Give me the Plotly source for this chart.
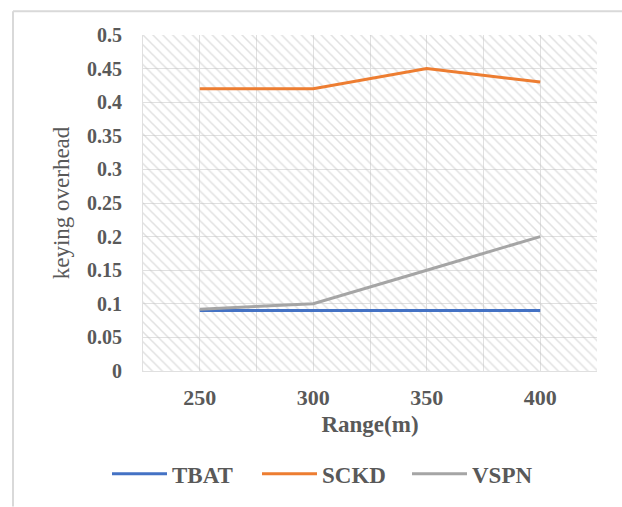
import plotly.graph_objects as go

ranges = [250, 300, 350, 400]
tbat = [0.09, 0.09, 0.09, 0.09]
sckd = [0.42, 0.42, 0.45, 0.43]
vspn = [0.092, 0.10, 0.15, 0.20]

y_ticks = [0, 0.05, 0.1, 0.15, 0.2, 0.25, 0.3, 0.35, 0.4, 0.45, 0.5]
y_ticktext = ["0", "0.05", "0.1", "0.15", "0.2", "0.25", "0.3", "0.35", "0.4", "0.45", "0.5"]
x_grid = [225, 250, 275, 300, 325, 350, 375, 400, 425]
x_ticktext = ["", "250", "", "300", "", "350", "", "400", ""]

X_RANGE = [225, 425]
Y_RANGE = [0, 0.5]

W, H = 622, 507
ML, MR, MT, MB = 143, 25, 35, 132

FONT = "Liberation Serif, Times New Roman, serif"
TXT = "#595959"

fig = go.Figure()

# hatched plot-area background
fig.add_trace(go.Scatter(
    x=[X_RANGE[0], X_RANGE[1], X_RANGE[1], X_RANGE[0], X_RANGE[0]],
    y=[Y_RANGE[0], Y_RANGE[0], Y_RANGE[1], Y_RANGE[1], Y_RANGE[0]],
    mode="none", fill="toself", fillcolor="rgba(0,0,0,0)",
    fillpattern=dict(shape="\\", fgcolor="#c4c4c4", bgcolor="rgba(0,0,0,0)",
                     size=7, solidity=0.22),
    showlegend=False, hoverinfo="skip"))

for name, vals, col in [("TBAT", tbat, "#4472C4"),
                        ("SCKD", sckd, "#ED7D31"),
                        ("VSPN", vspn, "#A5A5A5")]:
    fig.add_trace(go.Scatter(x=ranges, y=vals, name=name, mode="lines",
                             line=dict(color=col, width=3)))

pw = W - ML - MR
ph = H - MT - MB
def px_x(p):
    return (p - ML) / pw
def px_y(p):
    return (H - MB - p) / ph

fig.update_layout(
    width=W, height=H,
    margin=dict(l=ML, r=MR, t=MT, b=MB, pad=0),
    paper_bgcolor="white", plot_bgcolor="white",
    font=dict(family=FONT, color=TXT, size=19),
    xaxis=dict(range=X_RANGE, tickvals=x_grid, ticktext=x_ticktext,
               showgrid=True, gridcolor="#e0e0e0", gridwidth=1,
               zeroline=False, showline=True, linecolor="#e0e0e0",
               ticks="", ticklabelstandoff=7,
               tickfont=dict(family=FONT, size=22, color=TXT, weight="bold"),
               title=dict(text="<b>Range(m)</b>", standoff=6,
                          font=dict(family=FONT, size=23, color=TXT))),
    yaxis=dict(range=Y_RANGE, tickvals=y_ticks, ticktext=y_ticktext,
               showgrid=True, gridcolor="#e0e0e0", gridwidth=1,
               zeroline=False, showline=True, linecolor="#e0e0e0",
               ticks="", ticklabelstandoff=16,
               tickfont=dict(family=FONT, size=20, color=TXT, weight="bold"),
               title=dict(text="keying overhead", standoff=10,
                          font=dict(family=FONT, size=23, color=TXT))),
    legend=dict(orientation="h", xanchor="center", yanchor="middle",
                x=px_x(332), y=px_y(479), itemwidth=55,
                entrywidth=80, entrywidthmode="pixels",
                font=dict(family=FONT, size=23, color=TXT, weight="bold"),
                traceorder="normal", itemclick=False),
    showlegend=True,
    shapes=[
        dict(type="line", xref="paper", yref="paper",
             x0=px_x(13), x1=px_x(W + 5), y0=px_y(11), y1=px_y(11),
             line=dict(color="#d9d9d9", width=2)),
        dict(type="line", xref="paper", yref="paper",
             x0=px_x(13), x1=px_x(13), y0=px_y(11), y1=px_y(H + 5),
             line=dict(color="#d9d9d9", width=2)),
    ],
)

fig.write_html("out.html")
